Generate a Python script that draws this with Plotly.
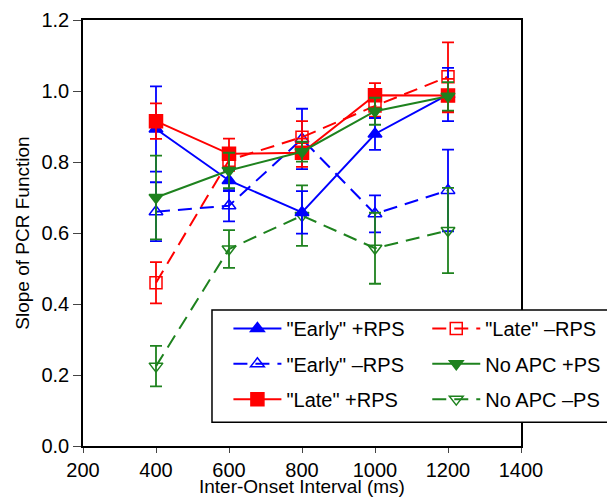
import plotly.graph_objects as go

# inter-onset intervals (ms)
IOI = [400, 600, 800, 1000, 1200]

early_plus = [0.893, 0.748, 0.658, 0.879, 0.99]
early_plus_err = [0.12, 0.03, 0.06, 0.045, 0.075]
early_minus = [0.66, 0.677, 0.865, 0.654, 0.72]
early_minus_err = [0.083, 0.044, 0.085, 0.052, 0.115]
late_plus = [0.915, 0.823, 0.826, 0.988, 0.987]
late_plus_err = [0.05, 0.043, 0.04, 0.034, 0.047]
late_minus = [0.46, 0.805, 0.87, 0.958, 1.04]
late_minus_err = [0.058, 0.03, 0.045, 0.03, 0.097]
noapc_plus = [0.70, 0.776, 0.829, 0.943, 0.985]
noapc_plus_err = [0.118, 0.05, 0.028, 0.038, 0.04]
noapc_minus = [0.225, 0.555, 0.649, 0.557, 0.607]
noapc_minus_err = [0.057, 0.053, 0.085, 0.10, 0.12]

X_TICKS = [200, 400, 600, 800, 1000, 1200, 1400]
Y_TICKS = [0.0, 0.2, 0.4, 0.6, 0.8, 1.0, 1.2]

BLUE = "#0000ff"
RED = "#ff0000"
GREEN = "#1e821e"
FONT = "Liberation Sans, Arial, sans-serif"
DASH = "14px,8px"

# legend grid (paper coords): two columns, three rows
COL_X = [0.332, 0.786]
ROW_Y = [0.276, 0.193, 0.110]


def series(name, y, err, color, symbol, dash, legend, size=12):
    return go.Scatter(
        x=IOI, y=y, name=name, mode="lines+markers",
        line=dict(color=color, width=2, dash=dash),
        marker=dict(symbol=symbol, size=size, color=color,
                    line=dict(color=color, width=1.5)),
        error_y=dict(type="data", array=err, color=color, thickness=1.8, width=6),
        legend=legend,
    )


fig = go.Figure()
# draw order: open symbols first, filled on top
fig.add_trace(series('"Early" \u2013RPS', early_minus, early_minus_err, BLUE,
                     "triangle-up-open", DASH, "legend3"))
fig.add_trace(series("No APC \u2013PS", noapc_minus, noapc_minus_err, GREEN,
                     "triangle-down-open", DASH, "legend6"))
fig.add_trace(series('"Late" \u2013RPS', late_minus, late_minus_err, RED,
                     "square-open", DASH, "legend2"))
fig.add_trace(series('"Early" +RPS', early_plus, early_plus_err, BLUE,
                     "triangle-up", "solid", "legend"))
fig.add_trace(series('"Late" +RPS', late_plus, late_plus_err, RED,
                     "square", "solid", "legend5", size=13))
fig.add_trace(series("No APC +PS", noapc_plus, noapc_plus_err, GREEN,
                     "triangle-down", "solid", "legend4"))

leg = dict(orientation="v", xanchor="left", yanchor="middle", itemwidth=48,
           bgcolor="rgba(0,0,0,0)", borderwidth=0,
           font=dict(family=FONT, size=20, color="black"))
legends = {}
for i, key in enumerate(["legend", "legend2", "legend3", "legend4", "legend5", "legend6"]):
    legends[key] = dict(leg, x=COL_X[i % 2], y=ROW_Y[i // 2])

# page body adds an 8px margin, so the figure is 8px smaller than the window
fig.update_layout(
    width=607, height=491,
    margin=dict(l=75, r=94, t=12, b=53, autoexpand=False),
    paper_bgcolor="white", plot_bgcolor="white",
    font=dict(family=FONT, size=16, color="black"),
    showlegend=True,
    **legends,
    xaxis=dict(
        range=[200, 1400], tickvals=X_TICKS, ticks="outside", ticklen=5,
        showline=True, linecolor="black", linewidth=1.5, mirror=True,
        showgrid=False, zeroline=False, tickfont=dict(size=20), automargin=False,
        ticklabeloverflow="allow",
    ),
    yaxis=dict(
        range=[0, 1.2], tickvals=Y_TICKS, tickformat=".1f", ticks="outside", ticklen=8,
        showline=True, linecolor="black", linewidth=1.5, mirror=True,
        showgrid=False, zeroline=False, tickfont=dict(size=20), automargin=False,
        ticklabeloverflow="allow",
    ),
    annotations=[
        dict(text="Inter-Onset Interval (ms)", xref="paper", yref="paper",
             x=0.5, y=-0.094, xanchor="center", yanchor="middle",
             showarrow=False, font=dict(size=19)),
        dict(text="Slope of PCR Function", xref="paper", yref="paper",
             x=-0.14, y=0.5, xanchor="center", yanchor="middle", textangle=-90,
             showarrow=False, font=dict(size=19)),
    ],
    shapes=[dict(type="rect", xref="paper", yref="paper",
                 x0=0.2945, x1=1.25, y0=0.056, y1=0.319,
                 fillcolor="white", line=dict(color="black", width=1.5),
                 layer="above")],
)

fig.write_html("out.html")
